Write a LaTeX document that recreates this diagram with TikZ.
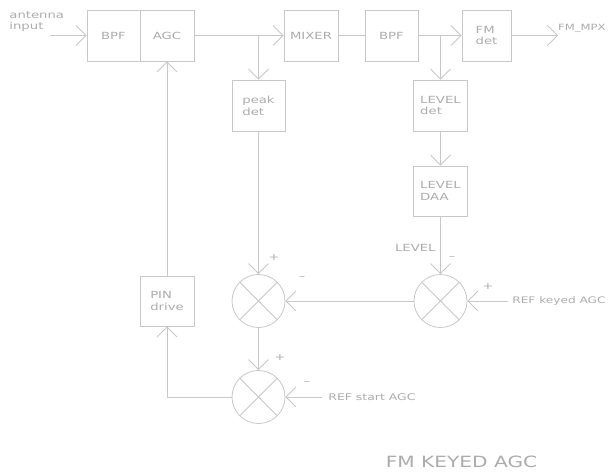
\documentclass[tikz,border=0pt]{standalone}
\usepackage{fontspec}
\setmainfont{DejaVu Sans}[FakeStretch=1.35]
\newfontfamily\titlefont{DejaVu Sans}[FakeStretch=1.3]
\usetikzlibrary{arrows.meta}
\definecolor{ln}{RGB}{200,200,200}
\definecolor{tx}{RGB}{172,172,172}
\begin{document}
\begin{tikzpicture}[x=1pt,y=-1pt,line width=0.8pt,
  blk/.style={draw=ln,rectangle,inner sep=0pt,text=tx,align=left,
    font=\fontsize{9.8}{11.8}\selectfont,minimum height=51pt},
  sumj/.style={draw=ln,circle,inner sep=0pt,minimum size=53pt,
    path picture={\draw[ln,line width=0.8pt]
      (path picture bounding box.north west) -- (path picture bounding box.south east)
      (path picture bounding box.north east) -- (path picture bounding box.south west);}},
  arr/.style={draw=ln,-{Straight Barb[length=10pt,width=20pt]}},
  wire/.style={draw=ln},
  lbl/.style={text=tx,inner sep=0pt,font=\fontsize{9.8}{11.5}\selectfont,align=left},
  sgn/.style={text=tx,inner sep=0pt,font=\fontsize{9.5}{9.5}\selectfont}]
\fill[white] (0,0) rectangle (608,472);
\useasboundingbox (0,0) rectangle (608,472);

% top row
\node[blk,minimum width=53pt] (bpf1) at (113.5,35.5) {BPF};
\node[blk,minimum width=54pt] (agc) at (167,35.5) {AGC};
\node[blk,minimum width=54pt] (mixer) at (311,35.5) {MIXER};
\node[blk,minimum width=53pt] (bpf2) at (391.5,35.5) {BPF};
\node[blk,minimum width=49pt] (fmdet) at (486.5,35.5) {FM\\det};

% second column blocks
\node[blk,minimum width=53pt] (peak) at (258.5,105.5) {peak\\det};
\node[blk,minimum width=54pt] (leveldet) at (440.5,105.5) {LEVEL\\det};
\node[blk,minimum width=54pt,minimum height=50pt] (leveldaa) at (440.5,191) {LEVEL\\DAA};
\node[blk,minimum width=54pt,minimum height=50pt] (pin) at (167,301) {PIN\\drive};

% summing junctions
\node[sumj] (s1) at (258.5,301) {};
\node[sumj] (s2) at (440.5,301) {};
\node[sumj] (s3) at (258.5,397) {};

% free ends and junctions
\coordinate (ant) at (50,35.5);
\coordinate (j1) at (258.5,35.5);
\coordinate (j2) at (440.5,35.5);
\coordinate (out) at (558,35.5);
\coordinate (refk) at (508,301);
\coordinate (refs) at (322,397);

% labels
\node[lbl,anchor=west] (antl) at (9,21.5) {antenna\\input};
\node[lbl,anchor=east,font=\fontsize{8.6}{10}\selectfont] (outl) at (606,28) {FM\_MPX};
\node[lbl,anchor=east] (levl) at (436,248) {LEVEL};
\node[lbl,anchor=east,font=\fontsize{9}{10}\selectfont] (refkl) at (606,301) {REF keyed AGC};
\node[lbl,anchor=west,font=\fontsize{9.2}{10}\selectfont] (refsl) at (328,397) {REF start AGC};
\node[text=tx,inner sep=0pt,font=\titlefont\fontsize{15.5}{16}\selectfont] (title) at (461.5,462) {FM KEYED AGC};

% signs
\node[sgn] (p1) at (274,258) {+};
\node[sgn] (m1) at (302,278) {\textendash};
\node[sgn] (m2) at (452,258) {\textendash};
\node[sgn] (p2) at (488,287) {+};
\node[sgn] (p3) at (280,358) {+};
\node[sgn] (m3) at (307,383) {\textendash};

% connectors
\draw[arr] (ant) -- (bpf1.west);
\draw[arr] (agc.east) -- (mixer.west);
\draw[arr] (j1) -- (peak.north);
\draw[wire] (mixer.east) -- (bpf2.west);
\draw[arr] (bpf2.east) -- (fmdet.west);
\draw[arr] (j2) -- (leveldet.north);
\draw[arr] (fmdet.east) -- (out);
\draw[arr] (leveldet.south) -- (leveldaa.north);
\draw[arr] (leveldaa.south) -- (s2.north);
\draw[arr] (peak.south) -- (s1.north);
\draw[arr] (s2.west) -- (s1.east);
\draw[arr] (refk) -- (s2.east);
\draw[arr] (s1.south) -- (s3.north);
\draw[arr] (refs) -- (s3.east);
\draw[arr] (s3.west) -| (pin.south);
\draw[arr] (pin.north) -- (agc.south);
\end{tikzpicture}
\end{document}
